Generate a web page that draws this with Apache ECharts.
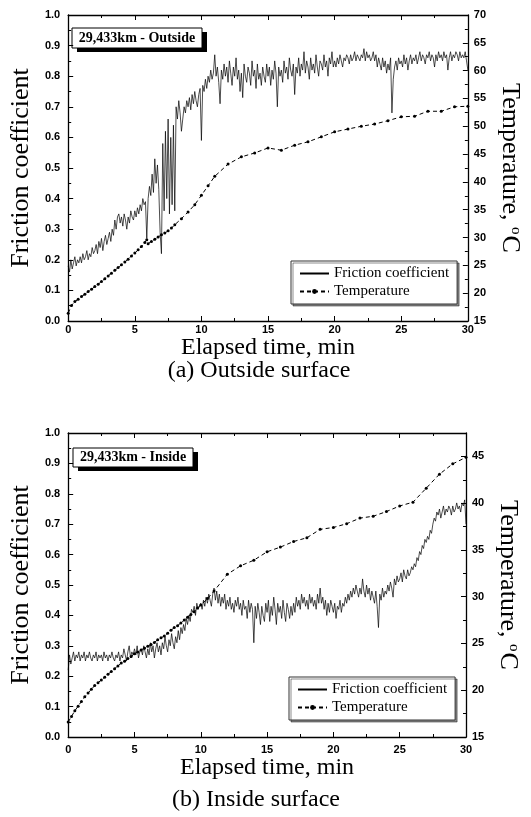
<!DOCTYPE html>
<html><head><meta charset="utf-8">
<script src="https://cdn.jsdelivr.net/npm/echarts@6/dist/echarts.min.js"></script>
<style>html,body{margin:0;padding:0;background:#fff}#c{width:531px;height:817px}</style>
</head><body><div id="c"></div>
<script>
// ---- data ----
const frictionSampleStep = 0.1; // minutes between friction samples
const frictionOutside = [
0.18,0.16,0.20,0.17,0.19,0.21,0.18,0.20,0.19,0.21,
0.19,0.22,0.20,0.21,0.23,0.20,0.22,0.21,0.24,0.22,
0.23,0.25,0.22,0.26,0.24,0.27,0.23,0.26,0.28,0.25,
0.27,0.29,0.26,0.30,0.28,0.33,0.30,0.34,0.35,0.32,
0.34,0.31,0.35,0.33,0.30,0.34,0.32,0.36,0.34,0.33,
0.36,0.34,0.37,0.35,0.38,0.36,0.40,0.38,0.39,0.27,
0.40,0.44,0.41,0.48,0.42,0.53,0.45,0.51,0.43,0.29,
0.22,0.58,0.36,0.62,0.40,0.66,0.35,0.60,0.38,0.64,
0.36,0.70,0.66,0.72,0.68,0.62,0.66,0.70,0.68,0.72,
0.70,0.73,0.69,0.74,0.71,0.75,0.72,0.70,0.74,0.76,
0.59,0.77,0.75,0.79,0.76,0.80,0.78,0.82,0.79,0.81,
0.87,0.80,0.83,0.78,0.71,0.82,0.79,0.84,0.80,0.83,
0.78,0.85,0.81,0.77,0.83,0.80,0.86,0.79,0.82,0.75,
0.81,0.73,0.84,0.80,0.78,0.83,0.81,0.77,0.85,0.80,
0.82,0.76,0.84,0.79,0.81,0.77,0.83,0.80,0.78,0.84,
0.80,0.83,0.77,0.82,0.79,0.85,0.81,0.70,0.83,0.80,
0.82,0.78,0.85,0.81,0.83,0.79,0.86,0.82,0.80,0.84,
0.74,0.83,0.81,0.86,0.80,0.84,0.82,0.88,0.81,0.85,
0.83,0.79,0.86,0.82,0.84,0.81,0.87,0.83,0.80,0.85,
0.84,0.82,0.87,0.83,0.85,0.80,0.86,0.84,0.88,0.83,
0.85,0.83,0.86,0.84,0.87,0.85,0.83,0.86,0.85,0.87,
0.86,0.84,0.87,0.85,0.86,0.88,0.85,0.87,0.86,0.85,
0.87,0.86,0.89,0.85,0.88,0.86,0.87,0.85,0.86,0.88,
0.85,0.87,0.83,0.86,0.84,0.82,0.86,0.83,0.85,0.81,
0.84,0.82,0.86,0.68,0.79,0.83,0.85,0.82,0.86,0.84,
0.85,0.83,0.87,0.84,0.86,0.82,0.85,0.87,0.84,0.86,
0.85,0.87,0.84,0.86,0.88,0.85,0.87,0.86,0.84,0.87,
0.86,0.88,0.85,0.87,0.86,0.83,0.87,0.85,0.88,0.86,
0.87,0.85,0.88,0.86,0.87,0.82,0.86,0.88,0.85,0.87,
0.86,0.88,0.87,0.85,0.88,0.86,0.87,0.86,0.88,0.85,
0.82];
const frictionInside = [
0.22,0.27,0.24,0.26,0.28,0.25,0.27,0.26,0.28,0.25,
0.27,0.26,0.28,0.25,0.27,0.26,0.28,0.26,0.25,0.27,
0.26,0.28,0.25,0.27,0.26,0.27,0.25,0.28,0.26,0.27,
0.25,0.27,0.26,0.28,0.26,0.25,0.27,0.26,0.28,0.25,
0.27,0.26,0.29,0.27,0.25,0.28,0.30,0.26,0.28,0.27,
0.29,0.27,0.30,0.26,0.28,0.29,0.27,0.30,0.28,0.26,
0.29,0.27,0.31,0.28,0.30,0.26,0.29,0.31,0.28,0.30,
0.27,0.31,0.29,0.33,0.30,0.28,0.32,0.30,0.34,0.31,
0.29,0.33,0.31,0.35,0.32,0.36,0.34,0.37,0.35,0.39,
0.37,0.40,0.38,0.42,0.41,0.43,0.40,0.44,0.42,0.43,
0.44,0.42,0.45,0.43,0.46,0.44,0.47,0.45,0.43,0.47,
0.49,0.45,0.48,0.44,0.47,0.43,0.46,0.44,0.47,0.42,
0.45,0.43,0.46,0.42,0.44,0.41,0.45,0.43,0.46,0.42,
0.44,0.40,0.45,0.42,0.43,0.39,0.45,0.41,0.44,0.42,
0.31,0.43,0.39,0.44,0.41,0.37,0.43,0.40,0.38,0.44,
0.41,0.45,0.38,0.43,0.40,0.46,0.42,0.37,0.44,0.41,
0.43,0.39,0.45,0.41,0.38,0.44,0.42,0.39,0.43,0.40,
0.44,0.41,0.46,0.43,0.45,0.42,0.47,0.44,0.46,0.43,
0.45,0.42,0.47,0.44,0.46,0.43,0.45,0.42,0.47,0.44,
0.49,0.44,0.46,0.42,0.45,0.40,0.44,0.41,0.45,0.43,
0.41,0.44,0.39,0.43,0.42,0.45,0.41,0.44,0.43,0.46,
0.44,0.47,0.45,0.48,0.46,0.49,0.47,0.50,0.48,0.46,
0.49,0.47,0.52,0.48,0.46,0.50,0.47,0.49,0.45,0.48,
0.46,0.44,0.48,0.43,0.36,0.47,0.45,0.49,0.46,0.48,
0.47,0.50,0.48,0.51,0.49,0.46,0.52,0.50,0.53,0.51,
0.52,0.54,0.51,0.55,0.53,0.52,0.55,0.53,0.54,0.56,
0.55,0.57,0.56,0.59,0.58,0.61,0.60,0.63,0.62,0.65,
0.64,0.66,0.65,0.68,0.67,0.70,0.72,0.71,0.74,0.73,
0.75,0.72,0.74,0.76,0.73,0.75,0.74,0.76,0.75,0.73,
0.76,0.74,0.75,0.77,0.75,0.76,0.74,0.77,0.76,0.78,
0.70];
const tempOutsideTime = [0,0.25,0.5,0.75,1,1.25,1.5,1.75,2,2.25,2.5,2.75,3,3.25,3.5,3.75,4,4.25,4.5,4.75,5,5.25,5.5,5.75,5.9,6,6.25,6.5,6.75,7,7.25,7.5,7.75,8,8.5,9,9.5,10,10.5,11,12,13,14,15,16,17,18,19,20,21,22,23,24,25,26,27,28,29,30];
const tempOutsideValue = [16.4,17.8,18.5,18.9,19.4,19.8,20.3,20.7,21.2,21.6,22.1,22.6,23.1,23.6,24.1,24.6,25.1,25.6,26.1,26.7,27.2,27.8,28.4,29.1,29.6,28.9,29.3,29.7,30.1,30.5,30.8,31.2,31.7,32.3,33.4,34.6,35.9,37.6,39.3,41.0,43.2,44.5,45.2,46.1,45.7,46.6,47.2,48.1,49.0,49.5,50.0,50.4,51.0,51.7,51.8,52.7,52.7,53.5,53.6];
const tempInsideTime = [0,0.25,0.5,0.75,1,1.25,1.5,1.75,2,2.25,2.5,2.75,3,3.25,3.5,3.75,4,4.25,4.5,4.75,5,5.25,5.5,5.75,6,6.25,6.5,6.75,7,7.25,7.5,7.75,8,8.25,8.5,8.75,9,9.25,9.5,9.75,10,10.5,11,12,13,14,15,16,17,18,19,20,21,22,23,24,25,26,27,28,29,30];
const tempInsideValue = [16.6,17.2,17.8,18.3,18.8,19.3,19.7,20.1,20.5,20.8,21.1,21.4,21.7,22.0,22.3,22.6,22.9,23.1,23.4,23.6,23.9,24.1,24.3,24.5,24.7,24.9,25.1,25.4,25.6,25.8,26.1,26.4,26.7,26.9,27.2,27.5,27.8,28.1,28.4,28.8,29.1,29.8,30.6,32.4,33.3,33.9,34.8,35.3,35.9,36.3,37.2,37.4,37.8,38.4,38.6,39.1,39.7,40.1,41.6,43.1,44.2,44.9];
const seriesNames = ['Friction coefficient', 'Temperature'];
const panelLabels = ['29,433km - Outside', '29,433km - Inside'];
const captions = ['(a) Outside surface', '(b) Inside surface'];
const xTitle = 'Elapsed time, min';
const yLeftTitle = 'Friction coefficient';

// ---- build ----
const pairs = (xs, ys) => ys.map((v, i) => [xs[i], v]);
const frictionPairs = arr => arr.map((v, i) => [Math.round(i * frictionSampleStep * 10) / 10, v]);

const SERIF = '"Liberation Serif", "Times New Roman", serif';
const SANS = '"Liberation Sans", Arial, sans-serif';
const axisLine = {show: true, onZero: false, lineStyle: {color: '#000', width: 1.3}};
const axisTick = {show: true, inside: true, length: 5, lineStyle: {color: '#000', width: 1}};
const minorTick = {show: true, splitNumber: 2, length: 3, lineStyle: {color: '#000', width: 1}};
const lbl = m => ({color: '#000', fontFamily: SANS, fontWeight: 'bold', fontSize: 11, margin: m});

function xAxes(g, labelMargin, nameGap) {
  return [
    {type: 'value', gridIndex: g, position: 'bottom', min: 0, max: 30, interval: 5,
     axisLine, axisTick, minorTick, splitLine: {show: false}, axisLabel: lbl(labelMargin),
     name: xTitle, nameLocation: 'middle', nameGap,
     nameTextStyle: {fontFamily: SERIF, fontSize: 24, color: '#000'}},
    {type: 'value', gridIndex: g, position: 'top', min: 0, max: 30, interval: 5,
     axisLine, axisTick, minorTick, splitLine: {show: false}, axisLabel: {show: false}}
  ];
}
function yAxes(g, tMax) {
  return [
    {type: 'value', gridIndex: g, position: 'left', min: 0, max: 1, interval: 0.1,
     axisLine, axisTick, minorTick, splitLine: {show: false},
     axisLabel: Object.assign(lbl(8), {formatter: v => v.toFixed(1)}),
     name: yLeftTitle, nameLocation: 'middle', nameGap: 30,
     nameTextStyle: {fontFamily: SERIF, fontSize: 26, color: '#000'}},
    {type: 'value', gridIndex: g, position: 'right', min: 15, max: tMax, interval: 5,
     axisLine, axisTick, minorTick, splitLine: {show: false},
     axisLabel: Object.assign(lbl(6), {formatter: v => (v % 5 === 0 ? String(v) : '')}),
     name: 'Temperature, {s|o}C', nameLocation: 'middle', nameGap: 26, nameRotate: -90,
     nameTextStyle: {fontFamily: SERIF, fontSize: 26, color: '#000',
       rich: {s: {fontFamily: SERIF, fontSize: 15, color: '#000', verticalAlign: 'top', padding: [0, 1, 10, 0]}}}}
  ];
}

function legendAt(left, top) {
  return {
    left, top, orient: 'vertical', selectedMode: false,
    data: [{name: seriesNames[0], itemStyle: {opacity: 0}}, seriesNames[1]],
    itemWidth: 29, itemHeight: 6, itemGap: 3, padding: [5, 8, 5, 8],
    borderColor: '#333', borderWidth: 1, backgroundColor: '#fff',
    shadowColor: 'rgba(0,0,0,0.45)', shadowOffsetX: 2, shadowOffsetY: 2, shadowBlur: 0,
    textStyle: {fontFamily: SERIF, fontSize: 15, color: '#000'}
  };
}

function tag(x, y, w, h, text) {
  return {type: 'group', children: [
    {type: 'rect', shape: {x: x + 5, y: y + 4, width: w, height: h}, style: {fill: '#000'}},
    {type: 'rect', shape: {x, y, width: w, height: h}, style: {fill: '#fff', stroke: '#000', lineWidth: 1}},
    {type: 'text', style: {text, x: x + w / 2, y: y + h / 2, align: 'center', verticalAlign: 'middle',
      font: 'bold 14px ' + SERIF, fill: '#000'}}
  ]};
}
function caption(cx, cy, text) {
  return {type: 'text', style: {text, x: cx, y: cy, align: 'center', verticalAlign: 'middle',
    font: '24px ' + SERIF, fill: '#000'}};
}

const frictionStyle = {type: 'line', symbol: 'none', showSymbol: false, color: '#000',
  lineStyle: {color: '#000', width: 0.7}, z: 2};
const tempStyle = {type: 'line', symbol: 'circle', symbolSize: 3, color: '#000',
  itemStyle: {color: '#000'}, lineStyle: {color: '#000', width: 1, type: [4, 3]}, z: 3};

const option = {
  animation: false,
  backgroundColor: '#fff',
  grid: [
    {left: 64, top: 15, width: 407, height: 306},
    {left: 63, top: 433, width: 403, height: 304}
  ],
  xAxis: [...xAxes(0, 3, 8), ...xAxes(1, 7, 19)],
  yAxis: [...yAxes(0, 70), ...yAxes(1, 47.5)],
  legend: [legendAt(291, 261), legendAt(289, 677)],
  series: [
    Object.assign({}, frictionStyle, {name: seriesNames[0], xAxisIndex: 0, yAxisIndex: 0, data: frictionPairs(frictionOutside)}),
    Object.assign({}, tempStyle, {name: seriesNames[1], xAxisIndex: 0, yAxisIndex: 1, data: pairs(tempOutsideTime, tempOutsideValue)}),
    Object.assign({}, frictionStyle, {name: seriesNames[0], xAxisIndex: 2, yAxisIndex: 2, data: frictionPairs(frictionInside)}),
    Object.assign({}, tempStyle, {name: seriesNames[1], xAxisIndex: 2, yAxisIndex: 3, data: pairs(tempInsideTime, tempInsideValue)})
  ],
  graphic: [
    tag(72, 28, 130, 20, panelLabels[0]),
    tag(73, 448, 120, 19, panelLabels[1]),
    caption(259, 371, captions[0]),
    caption(256, 800, captions[1])
  ]
};
const chart = echarts.init(document.getElementById('c'), null, {renderer: 'canvas'});
chart.setOption(option);
</script>
</body></html>
